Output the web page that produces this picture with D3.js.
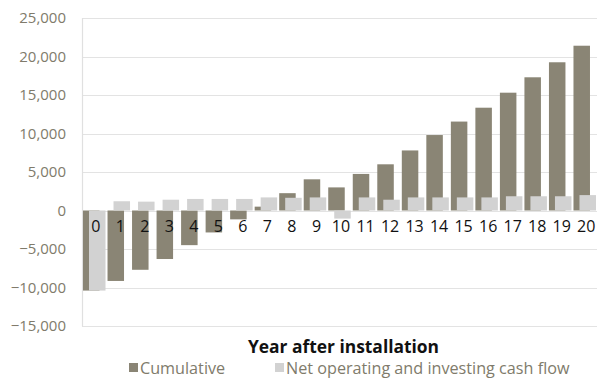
<!DOCTYPE html>
<html><head><meta charset="utf-8">
<script src="https://cdn.jsdelivr.net/npm/d3@7"></script>
<style>body{margin:0;background:#fff}svg{display:block}text{font-family:"Open Sans",sans-serif}</style>
</head><body><svg id="c" width="600" height="383"></svg>
<script>
const years = ["0","1","2","3","4","5","6","7","8","9","10","11","12","13","14","15","16","17","18","19","20"];
const cumulative = [-10400,-9150,-7700,-6300,-4500,-2850,-1150,500,2250,4050,3000,4750,6000,7800,9800,11550,13350,15300,17300,19250,21400];
const netFlow = [-10400,1200,1150,1400,1500,1500,1500,1700,1650,1700,-1050,1700,1400,1700,1700,1700,1700,1850,1850,1850,2000];
const yTicks = [-15000,-10000,-5000,0,5000,10000,15000,20000,25000];
const seriesNames = ["Cumulative","Net operating and investing cash flow"];

const svg = d3.select("#c");
const L = 82, R = 597, T = 18, B = 326;
const x = d3.scaleBand().domain(years).range([L, R]);
const y = d3.scaleLinear().domain([-15000, 25000]).range([B, T]);
const darkC = "#8a8575", lightC = "#d2d2d2", tickC = "#807b6b";

svg.append("g").selectAll("line").data(yTicks).join("line")
  .attr("x1", L).attr("x2", R).attr("y1", d => Math.round(y(d)) + 0.5).attr("y2", d => Math.round(y(d)) + 0.5)
  .attr("stroke", "#e3e3e3").attr("stroke-width", 1.2);
svg.append("line").attr("x1", L + 0.5).attr("x2", L + 0.5).attr("y1", T).attr("y2", B + 0.5)
  .attr("stroke", "#e0e0e0").attr("stroke-width", 1.2);

const yAxis = d3.axisLeft(y).tickValues(yTicks).tickSize(0).tickPadding(0).tickFormat(d3.format(","));
const ga = svg.append("g").attr("transform", `translate(66,0)`).call(yAxis);
ga.select(".domain").remove();
ga.selectAll("text").attr("fill", tickC).style("font-size", "15px").style("font-family", '"Open Sans",sans-serif');

const bw = 16.5;
svg.append("g").selectAll("rect").data(cumulative).join("rect")
  .attr("x", (d, i) => x(years[i]) + 1)
  .attr("width", bw)
  .attr("y", d => y(Math.max(0, d)))
  .attr("height", d => Math.abs(y(d) - y(0)))
  .attr("fill", darkC);
svg.append("g").selectAll("rect").data(netFlow).join("rect")
  .attr("x", (d, i) => x(years[i]) + 7)
  .attr("width", bw)
  .attr("y", d => y(Math.max(0, d)))
  .attr("height", d => Math.abs(y(d) - y(0)))
  .attr("fill", lightC);

svg.append("g").selectAll("text").data(years).join("text")
  .attr("x", d => x(d) + x.bandwidth() / 2 + 1.5)
  .attr("y", y(0) + 21)
  .attr("text-anchor", "middle")
  .attr("fill", "#111").style("font-size", "16px")
  .text(d => d);

svg.append("text").attr("x", 343.5).attr("y", 353).attr("text-anchor", "middle")
  .style("font-size", "17.4px").style("font-weight", "bold").attr("fill", "#111")
  .text("Year after installation");

const leg = [{x: 129, c: darkC}, {x: 275, c: lightC}];
leg.forEach((l, i) => {
  svg.append("rect").attr("x", l.x).attr("y", 363).attr("width", 9).attr("height", 9).attr("fill", l.c);
  svg.append("text").attr("x", l.x + 11).attr("y", 374).attr("fill", tickC)
    .style("font-size", "16.2px").text(seriesNames[i]);
});
</script></body></html>
